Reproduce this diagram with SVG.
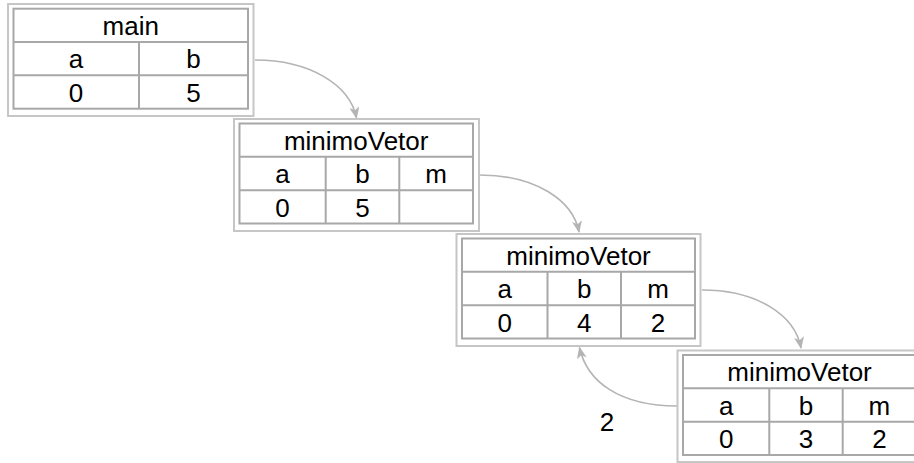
<svg xmlns="http://www.w3.org/2000/svg" width="914" height="463" viewBox="0 0 914 463">
<defs>
<style>
.outer{fill:#fff;stroke:#c6c6c6;stroke-width:2}
.grid{fill:none;stroke:#a8a8a8;stroke-width:2}
.t{font-family:"Liberation Sans",Arial,sans-serif;font-size:26px;fill:#000;text-anchor:middle}
.edge{fill:none;stroke:#b4b4b4;stroke-width:1.6}
</style>
<marker id="arr" viewBox="0 0 12 10" refX="11" refY="5" markerWidth="12" markerHeight="10" markerUnits="userSpaceOnUse" orient="auto">
<path d="M0,0 L12,5 L0,10 L3,5 z" fill="#b4b4b4"/>
</marker>
</defs>
<rect width="914" height="463" fill="#fff"/>
<g id="connectors">
<path class="edge" d="M255,60 C310,60 350,85 356.5,118" marker-end="url(#arr)"/>
<path class="edge" d="M480,175 C535,175 573,200 579,232" marker-end="url(#arr)"/>
<path class="edge" d="M702,290 C757,290 795,315 801,348" marker-end="url(#arr)"/>
<path class="edge" d="M677,406 C620,406 587,382 579.5,347.5" marker-end="url(#arr)"/>
<text class="t" x="607" y="431">2</text>
</g>
<g id="main">
<rect class="outer" x="8" y="4" width="245.5" height="112"/>
<rect class="grid" x="13.5" y="8.7" width="234.5" height="100"/>
<path class="grid" d="M13.5,42 H248 M13.5,75.3 H248 M139,42 V108.7"/>
<text class="t" x="130.7" y="35">main</text>
<text class="t" x="76" y="68.3">a</text>
<text class="t" x="193.5" y="68.3">b</text>
<text class="t" x="76" y="101.7">0</text>
<text class="t" x="193.5" y="101.7">5</text>
</g>
<g id="minimoVetor1">
<rect class="outer" x="234" y="119" width="245" height="112"/>
<rect class="grid" x="239.5" y="123.5" width="233.5" height="100"/>
<path class="grid" d="M239.5,156.8 H473 M239.5,190.2 H473 M325.7,156.8 V223.5 M399.3,156.8 V223.5"/>
<text class="t" x="356.2" y="149.8">minimoVetor</text>
<text class="t" x="282.6" y="183.2">a</text>
<text class="t" x="362.5" y="183.2">b</text>
<text class="t" x="436.2" y="183.2">m</text>
<text class="t" x="282.6" y="216.5">0</text>
<text class="t" x="362.5" y="216.5">5</text>
</g>
<g id="minimoVetor2">
<rect class="outer" x="456.5" y="234" width="244" height="112"/>
<rect class="grid" x="462" y="238.5" width="233" height="100"/>
<path class="grid" d="M462,271.8 H695 M462,305.2 H695 M547.5,271.8 V338.5 M621,271.8 V338.5"/>
<text class="t" x="578.5" y="264.8">minimoVetor</text>
<text class="t" x="504.8" y="298.2">a</text>
<text class="t" x="584.3" y="298.2">b</text>
<text class="t" x="658" y="298.2">m</text>
<text class="t" x="504.8" y="331.5">0</text>
<text class="t" x="584.3" y="331.5">4</text>
<text class="t" x="658" y="331.5">2</text>
</g>
<g id="minimoVetor3">
<rect class="outer" x="677.5" y="350.5" width="244" height="111.5"/>
<rect class="grid" x="683" y="355" width="233" height="100"/>
<path class="grid" d="M683,388.3 H916 M683,421.7 H916 M769.3,388.3 V455 M842.7,388.3 V455"/>
<text class="t" x="799.5" y="381.3">minimoVetor</text>
<text class="t" x="726.2" y="414.7">a</text>
<text class="t" x="806" y="414.7">b</text>
<text class="t" x="879.4" y="414.7">m</text>
<text class="t" x="726.2" y="448">0</text>
<text class="t" x="806" y="448">3</text>
<text class="t" x="879.4" y="448">2</text>
</g>
</svg>
